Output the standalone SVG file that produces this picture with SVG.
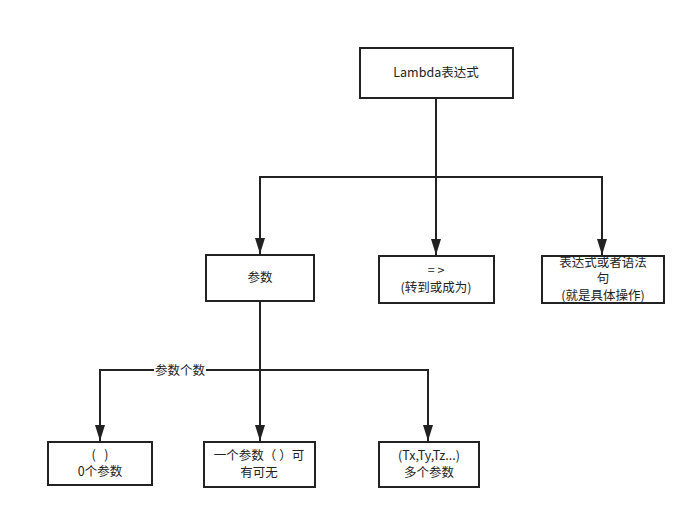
<svg xmlns="http://www.w3.org/2000/svg" width="696" height="519" viewBox="0 0 696 519">
<style>
.box{fill:#fff;stroke:#222;stroke-width:2}
.t{font-family:"Noto Sans CJK SC","Noto Sans",sans-serif;font-size:12.5px;fill:#222;text-anchor:middle}
.c{fill:none;stroke:#222;stroke-width:2}
</style>
<defs>
<marker id="ah" markerUnits="userSpaceOnUse" viewBox="0 0 16 10" refX="16" refY="5" markerWidth="16" markerHeight="10" orient="auto">
<path d="M0,0 L16,5 L0,10 z" fill="#222"/>
</marker>
</defs>
<rect width="696" height="519" fill="#fff"/>
<g id="connectors">
<path class="c" d="M436,98 V255" marker-end="url(#ah)"/>
<path class="c" d="M436,177 H260 V254" marker-end="url(#ah)"/>
<path class="c" d="M436,177 H602 V255" marker-end="url(#ah)"/>
<path class="c" d="M260,302 V441" marker-end="url(#ah)"/>
<path class="c" d="M260,370 H100 V441" marker-end="url(#ah)"/>
<path class="c" d="M260,370 H428 V441" marker-end="url(#ah)"/>
<rect x="154" y="362" width="52" height="16" fill="#fff"/>
<text class="t" x="180" y="375">参数个数</text>
</g>
<g id="lambda">
<rect class="box" x="360" y="48" width="153" height="50"/>
<text class="t" x="436" y="77">Lambda表达式</text>
</g>
<g id="params">
<rect class="box" x="206" y="255" width="108" height="46"/>
<text class="t" x="260" y="282">参数</text>
</g>
<g id="arrow">
<rect class="box" x="379" y="256" width="115" height="47"/>
<text class="t" x="436" y="275">= &gt;</text>
<text class="t" x="436" y="292">(转到或成为)</text>
</g>
<g id="expr">
<rect class="box" x="542" y="256" width="122" height="47"/>
<text class="t" x="603" y="267">表达式或者语法</text>
<text class="t" x="603" y="283">句</text>
<text class="t" x="603" y="300">(就是具体操作)</text>
</g>
<g id="zero">
<rect class="box" x="48" y="442" width="104" height="43"/>
<text class="t" x="100" y="459">(&#160;&#160;&#160;)</text>
<text class="t" x="100" y="476">0个参数</text>
</g>
<g id="one">
<rect class="box" x="204" y="442" width="111" height="45"/>
<text class="t" x="259" y="460">一个参数（&#160;）可</text>
<text class="t" x="259" y="477">有可无</text>
</g>
<g id="many">
<rect class="box" x="379" y="442" width="100" height="45"/>
<text class="t" x="429" y="460">(Tx,Ty,Tz...)</text>
<text class="t" x="429" y="477">多个参数</text>
</g>
</svg>
